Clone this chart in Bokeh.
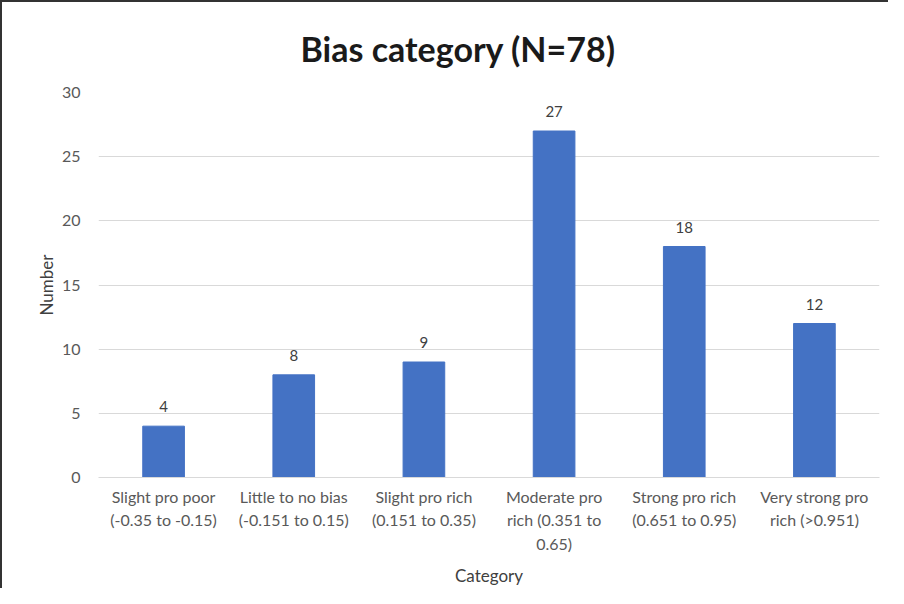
from bokeh.plotting import figure
from bokeh.models import ColumnDataSource, LabelSet, FixedTicker
from bokeh.core.properties import value
from bokeh.embed import file_html
from bokeh.resources import INLINE

title_text = "Bias category (N=78)"
categories = [
    "Slight pro poor\n(-0.35 to -0.15)",
    "Little to no bias\n(-0.151 to 0.15)",
    "Slight pro rich\n(0.151 to 0.35)",
    "Moderate pro\nrich (0.351 to\n0.65)",
    "Strong pro rich\n(0.651 to 0.95)",
    "Very strong pro\nrich (>0.951)",
]
counts = [4, 8, 9, 27, 18, 12]
y_ticks = [0, 5, 10, 15, 20, 25, 30]

FONT = "Lato"
src = ColumnDataSource(dict(cat=categories, n=counts, lbl=[str(c) for c in counts]))

p = figure(
    x_range=categories, y_range=(0, 30),
    width=888, height=588,
    output_backend="svg", toolbar_location=None,
    min_border_left=96, min_border_right=11, min_border_top=88, min_border_bottom=113,
    title=title_text,
)
p.styles = {"border-left": "2px solid #333", "border-top": "2px solid #333"}
p.outline_line_color = None
p.background_fill_color = "white"
p.border_fill_color = "white"

p.title.align = "left"
p.title.offset = 202
p.title.text_font = FONT
p.title.text_font_size = "34px"
p.title.text_font_style = "bold"
p.title.text_color = "#1a1a1a"
p.title.standoff = 47

p.vbar(x="cat", top="n", width=0.32, source=src, color="#4472C4")

labels = LabelSet(x="cat", y="n", text="lbl", source=src, text_align="center",
                  text_baseline="bottom", y_offset=14, text_font_size="15px",
                  text_color="#404040", text_font=value(FONT))
p.add_layout(labels)

p.xgrid.grid_line_color = None
p.ygrid.grid_line_color = "#d9d9d9"
p.ygrid.grid_line_width = 1

p.yaxis.ticker = FixedTicker(ticks=y_ticks)
p.yaxis.axis_line_color = None
p.yaxis.major_tick_line_color = None
p.yaxis.minor_tick_line_color = None
p.yaxis.major_label_text_font = FONT
p.yaxis.major_label_text_font_size = "16px"
p.yaxis.major_label_text_color = "#595959"
p.yaxis.major_label_standoff = 12
p.yaxis.axis_label = "Number"
p.yaxis.axis_label_text_font = FONT
p.yaxis.axis_label_text_font_size = "17px"
p.yaxis.axis_label_text_font_style = "normal"
p.yaxis.axis_label_text_color = "#404040"
p.yaxis.axis_label_standoff = 2

p.xaxis.axis_line_color = "#d9d9d9"
p.xaxis.major_tick_line_color = None
p.xaxis.minor_tick_line_color = None
p.xaxis.major_label_text_font = FONT
p.xaxis.major_label_text_font_size = "16px"
p.xaxis.major_label_text_color = "#595959"
p.xaxis.major_label_text_line_height = 1.25
p.xaxis.major_label_standoff = 3
p.xaxis.axis_label = "Category"
p.xaxis.axis_label_text_font = FONT
p.xaxis.axis_label_text_font_size = "17px"
p.xaxis.axis_label_text_font_style = "normal"
p.xaxis.axis_label_text_color = "#404040"
p.xaxis.axis_label_standoff = 9

open("out.html", "w").write(file_html(p, INLINE))
